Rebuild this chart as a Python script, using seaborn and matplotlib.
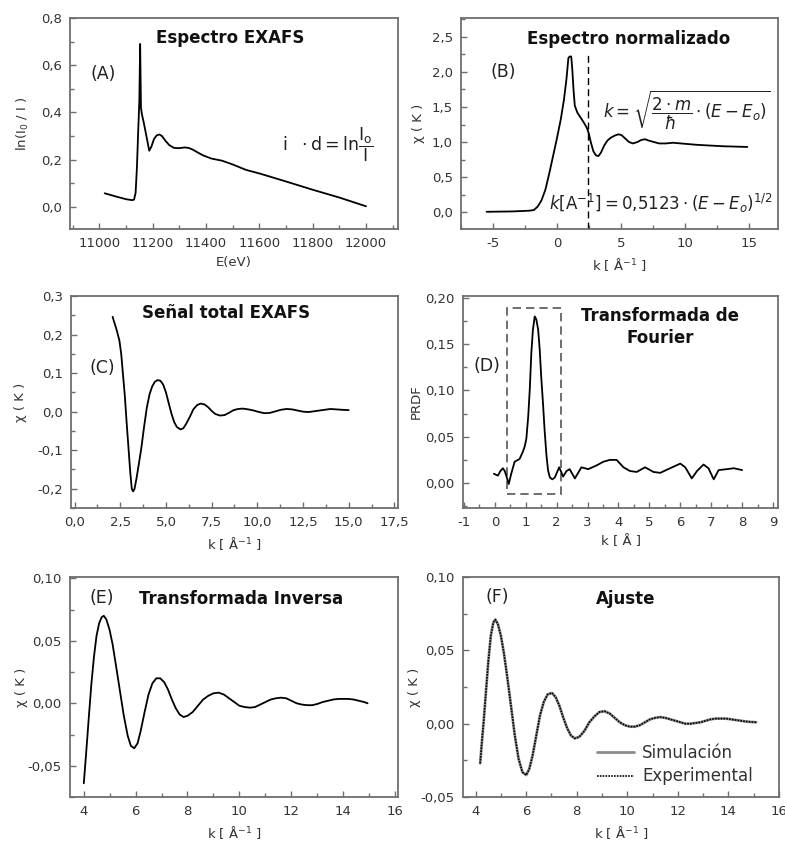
import numpy as np
import pandas as pd
import matplotlib
matplotlib.use("Agg")
import matplotlib.pyplot as plt
import seaborn as sns
from matplotlib.ticker import FuncFormatter, AutoMinorLocator, MultipleLocator
from matplotlib.patches import Rectangle

# (A) raw EXAFS spectrum
energy_ev = [11020, 11060, 11100, 11122, 11130, 11136, 11141, 11146, 11150, 11153, 11156,
             11160, 11166, 11173, 11180, 11187, 11195, 11205, 11215, 11225, 11235, 11248,
             11262, 11280, 11300, 11320, 11335, 11350, 11370, 11390, 11420, 11460, 11500,
             11550, 11600, 11700, 11800, 11900, 12000]
ln_i0_i = [0.058, 0.045, 0.033, 0.029, 0.031, 0.060, 0.17, 0.33, 0.45, 0.69, 0.42,
           0.39, 0.36, 0.32, 0.28, 0.238, 0.255, 0.288, 0.303, 0.307, 0.300, 0.280,
           0.262, 0.250, 0.249, 0.252, 0.250, 0.243, 0.230, 0.218, 0.205, 0.196, 0.180,
           0.157, 0.142, 0.108, 0.073, 0.040, 0.003]

# (B) normalised spectrum
k_norm = [-5.5, -3.5, -2.2, -1.8, -1.5, -1.2, -0.9, -0.6, -0.3, 0.0, 0.3, 0.55, 0.75,
          0.9, 1.0, 1.12, 1.2, 1.3, 1.4, 1.6, 1.85, 2.1, 2.35, 2.5, 2.65, 2.85, 3.05,
          3.25, 3.45, 3.7, 3.95, 4.2, 4.5, 4.8, 5.05, 5.35, 5.65, 5.95, 6.3, 6.6, 6.9,
          7.2, 7.6, 8.0, 8.5, 9.1, 10.0, 11.0, 12.0, 13.0, 14.9]
chi_norm = [0.005, 0.01, 0.02, 0.03, 0.08, 0.17, 0.32, 0.55, 0.80, 1.05, 1.32, 1.60, 1.90,
            2.20, 2.22, 2.22, 2.05, 1.75, 1.52, 1.42, 1.35, 1.28, 1.20, 1.12, 1.00, 0.87,
            0.81, 0.80, 0.85, 0.95, 1.02, 1.06, 1.09, 1.11, 1.10, 1.05, 1.00, 0.98, 1.00,
            1.03, 1.04, 1.02, 1.00, 0.98, 0.98, 0.99, 0.975, 0.96, 0.95, 0.94, 0.93]
edge_k = 2.45

# (C) total EXAFS signal
k_total = [2.08, 2.30, 2.45, 2.55, 2.65, 2.75, 2.85, 2.95, 3.05, 3.13, 3.20, 3.28, 3.38,
           3.50, 3.65, 3.80, 3.95, 4.10, 4.25, 4.40, 4.55, 4.70, 4.85, 5.00, 5.15, 5.30,
           5.45, 5.60, 5.80, 5.95, 6.10, 6.30, 6.50, 6.70, 6.90, 7.10, 7.30, 7.50, 7.70,
           7.95, 8.20, 8.45, 8.70, 8.95, 9.20, 9.50, 9.80, 10.10, 10.40, 10.70, 11.00,
           11.30, 11.60, 11.90, 12.20, 12.50, 12.80, 13.10, 13.40, 13.70, 14.00, 14.30,
           14.60, 15.00]
chi_total = [0.246, 0.212, 0.185, 0.150, 0.095, 0.040, -0.030, -0.095, -0.160, -0.200,
             -0.207, -0.200, -0.175, -0.140, -0.095, -0.040, 0.010, 0.045, 0.066, 0.078,
             0.082, 0.080, 0.070, 0.050, 0.022, -0.005, -0.027, -0.040, -0.046, -0.043,
             -0.032, -0.014, 0.006, 0.017, 0.021, 0.019, 0.012, 0.002, -0.006, -0.010,
             -0.009, -0.003, 0.004, 0.007, 0.008, 0.006, 0.003, -0.001, -0.004, -0.003,
             0.001, 0.005, 0.007, 0.006, 0.003, 0.000, -0.001, 0.001, 0.003, 0.005, 0.007,
             0.006, 0.005, 0.004]

# (D) Fourier transform
r_ft = [-0.03, 0.10, 0.18, 0.26, 0.32, 0.37, 0.45, 0.53, 0.64, 0.80, 0.91, 0.97, 1.02,
        1.08, 1.13, 1.18, 1.23, 1.29, 1.34, 1.40, 1.45, 1.50, 1.56, 1.61, 1.67, 1.72,
        1.78, 1.86, 1.94, 2.08, 2.21, 2.32, 2.42, 2.59, 2.80, 3.02, 3.29, 3.51, 3.72,
        3.94, 4.16, 4.37, 4.59, 4.86, 5.13, 5.35, 5.67, 6.00, 6.16, 6.37, 6.54, 6.75,
        6.91, 7.08, 7.24, 7.51, 7.73, 8.0]
prdf = [0.010, 0.008, 0.013, 0.016, 0.013, 0.008, -0.001, 0.010, 0.023, 0.026, 0.034,
        0.040, 0.048, 0.072, 0.101, 0.140, 0.165, 0.180, 0.177, 0.166, 0.145, 0.115,
        0.085, 0.057, 0.030, 0.014, 0.006, 0.004, 0.006, 0.017, 0.007, 0.013, 0.015,
        0.005, 0.017, 0.015, 0.019, 0.023, 0.025, 0.025, 0.017, 0.013, 0.012, 0.017,
        0.012, 0.011, 0.016, 0.021, 0.017, 0.005, 0.013, 0.020, 0.016, 0.004, 0.014,
        0.015, 0.016, 0.014]
window_r = [0.39, 2.15]
window_prdf = [-0.0116, 0.189]

# (E) inverse transform
k_inv = [4.01, 4.10, 4.20, 4.30, 4.40, 4.50, 4.60, 4.70, 4.78, 4.88, 5.00, 5.12, 5.25,
         5.40, 5.55, 5.70, 5.82, 5.95, 6.08, 6.20, 6.35, 6.50, 6.65, 6.80, 6.95, 7.10,
         7.25, 7.40, 7.55, 7.70, 7.85, 8.00, 8.20, 8.40, 8.60, 8.80, 9.00, 9.20, 9.40,
         9.60, 9.80, 10.0, 10.2, 10.4, 10.6, 10.8, 11.0, 11.2, 11.4, 11.6, 11.8, 12.0,
         12.2, 12.4, 12.6, 12.8, 13.0, 13.2, 13.4, 13.6, 13.8, 14.0, 14.2, 14.4, 14.6,
         14.8, 14.93]
chi_inv = [-0.064, -0.040, -0.012, 0.015, 0.037, 0.054, 0.064, 0.069, 0.070, 0.067,
           0.059, 0.047, 0.030, 0.010, -0.010, -0.026, -0.034, -0.036, -0.032, -0.022,
           -0.007, 0.007, 0.016, 0.020, 0.020, 0.017, 0.011, 0.003, -0.004, -0.009,
           -0.011, -0.010, -0.007, -0.002, 0.003, 0.006, 0.008, 0.0085, 0.007, 0.004,
           0.001, -0.002, -0.003, -0.0035, -0.003, -0.001, 0.001, 0.003, 0.004, 0.0045,
           0.004, 0.002, 0.000, -0.001, -0.0015, -0.0015, -0.0005, 0.001, 0.002, 0.003,
           0.0035, 0.0035, 0.0035, 0.003, 0.002, 0.001, 0.000]

# (F) fit
k_fit = [4.18, 4.25, 4.32, 4.40, 4.50, 4.60, 4.70, 4.78, 4.88, 5.00, 5.12, 5.25, 5.40,
         5.55, 5.70, 5.85, 6.00, 6.12, 6.25, 6.40, 6.55, 6.70, 6.85, 7.02, 7.17, 7.32,
         7.47, 7.62, 7.77, 7.92, 8.10, 8.30, 8.50, 8.70, 8.90, 9.10, 9.30, 9.50, 9.70,
         9.90, 10.1, 10.3, 10.5, 10.7, 10.9, 11.1, 11.3, 11.5, 11.7, 11.9, 12.1, 12.3,
         12.5, 12.7, 12.9, 13.1, 13.3, 13.5, 13.7, 13.9, 14.1, 14.3, 14.5, 14.7, 14.9,
         15.1]
chi_sim = [-0.027, -0.012, 0.002, 0.020, 0.042, 0.060, 0.069, 0.071, 0.068, 0.060,
           0.048, 0.032, 0.012, -0.008, -0.024, -0.033, -0.035, -0.031, -0.022, -0.008,
           0.006, 0.015, 0.020, 0.021, 0.018, 0.012, 0.004, -0.003, -0.008, -0.010,
           -0.009, -0.005, 0.001, 0.005, 0.008, 0.0085, 0.007, 0.004, 0.001, -0.001,
           -0.002, -0.002, -0.001, 0.001, 0.003, 0.004, 0.0045, 0.004, 0.003, 0.002,
           0.001, 0.000, 0.000, 0.0005, 0.001, 0.002, 0.003, 0.0035, 0.0035, 0.0035,
           0.003, 0.0025, 0.002, 0.0015, 0.0012, 0.001]
chi_exp = list(chi_sim)

sns.set_theme(style="ticks")
plt.rcParams['font.family'] = ['DejaVu Sans']
plt.rcParams['mathtext.fontset'] = 'dejavusans'
plt.rcParams['xtick.direction'] = 'in'
plt.rcParams['ytick.direction'] = 'in'

frame_col = '#6e6e6e'
text_col = '#333333'

fig = plt.figure(figsize=(7.85, 8.48), dpi=100)

positions = {
    'A': [0.0892, 0.7300, 0.4178, 0.2488],
    'B': [0.5873, 0.7300, 0.4038, 0.2488],
    'C': [0.0904, 0.4009, 0.4166, 0.2500],
    'D': [0.5898, 0.4009, 0.4013, 0.2500],
    'E': [0.0892, 0.0601, 0.4178, 0.2594],
    'F': [0.5898, 0.0601, 0.4025, 0.2594],
}


def comma_fmt(dec):
    def f(v, p):
        s = f"{v:.{dec}f}"
        if s.startswith('-') and float(s) == 0:
            s = s[1:]
        return s.replace('.', ',')
    return FuncFormatter(f)


def style(ax, xlim, ylim, xmaj, ymaj, xdec, ydec, xlabel, ylabel, ypad=7):
    ax.set_xlim(xlim)
    ax.set_ylim(ylim)
    ax.xaxis.set_major_locator(MultipleLocator(xmaj))
    ax.yaxis.set_major_locator(MultipleLocator(ymaj))
    ax.xaxis.set_minor_locator(AutoMinorLocator(2))
    ax.yaxis.set_minor_locator(AutoMinorLocator(2))
    ax.xaxis.set_major_formatter(comma_fmt(xdec))
    ax.yaxis.set_major_formatter(comma_fmt(ydec))
    ax.tick_params(which='major', direction='in', length=4, width=1, color=frame_col,
                   labelsize=9.5, labelcolor=text_col, pad=6)
    ax.tick_params(which='minor', direction='in', length=3, width=1, color=frame_col)
    for s in ax.spines.values():
        s.set_color(frame_col)
        s.set_linewidth(1.3)
    ax.set_xlabel(xlabel, fontsize=9.5, color=text_col, labelpad=4)
    ax.set_ylabel(ylabel, fontsize=9.5, color=text_col, labelpad=ypad)


line_kw = dict(color='black', linewidth=1.3, sort=False)
title_kw = dict(fontsize=12, fontweight='bold', color='#111111', ha='center', va='center')
lab_kw = dict(fontsize=12.5, color='#222222', ha='center', va='center')
klabel = r'k [ Å$^{\mathdefault{-1}}$ ]'

# A
ax = fig.add_axes(positions['A'])
sns.lineplot(x=energy_ev, y=ln_i0_i, ax=ax, **line_kw)
style(ax, (10890, 12120), (-0.093, 0.8), 200, 0.2, 0, 1, 'E(eV)', r'ln(I$_{\mathdefault{0}}$ / I )')
ax.text(0.488, 0.905, 'Espectro EXAFS', transform=ax.transAxes, **title_kw)
ax.text(0.10, 0.735, '(A)', transform=ax.transAxes, **lab_kw)
ax.text(0.645, 0.40, r'$\mathrm{i}\ \ \cdot \mathrm{d} = \mathrm{ln}\dfrac{\mathrm{I_o}}{\mathrm{I}}$',
        transform=ax.transAxes, fontsize=12.5, ha='left', va='center', color='#222222')

# B
ax = fig.add_axes(positions['B'])
sns.lineplot(x=k_norm, y=chi_norm, ax=ax, **line_kw)
style(ax, (-7.5, 17.3), (-0.24, 2.77), 5, 0.5, 0, 1, klabel, 'χ ( K )', ypad=5)
ax.axvline(edge_k, ymin=0, ymax=0.83, color='black', linewidth=1, dashes=(5, 3))
ax.text(0.53, 0.90, 'Espectro normalizado', transform=ax.transAxes, **title_kw)
ax.text(0.133, 0.744, '(B)', transform=ax.transAxes, **lab_kw)
ax.text(0.448, 0.564, r'$k=\sqrt{\dfrac{2\cdot m}{\hbar}\cdot(E-E_o)}$', transform=ax.transAxes,
        fontsize=12, ha='left', va='center', color='#222222')
ax.text(0.278, 0.123, r'$k\left[\mathrm{A}^{-1}\right]=0{,}5123\cdot(E-E_o)^{1/2}$',
        transform=ax.transAxes, fontsize=12, ha='left', va='center', color='#222222')

# C
ax = fig.add_axes(positions['C'])
sns.lineplot(x=k_total, y=chi_total, ax=ax, **line_kw)
style(ax, (-0.2, 17.7), (-0.25, 0.3), 2.5, 0.1, 1, 1, klabel, 'χ ( K )')
ax.text(0.474, 0.92, 'Señal total EXAFS', transform=ax.transAxes, **title_kw)
ax.text(0.095, 0.66, '(C)', transform=ax.transAxes, **lab_kw)

# D
ax = fig.add_axes(positions['D'])
sns.lineplot(x=r_ft, y=prdf, ax=ax, **line_kw)
style(ax, (-1.03, 9.16), (-0.027, 0.202), 1, 0.05, 0, 2, 'k [ Å ]', 'PRDF', ypad=2)
ax.add_patch(Rectangle((window_r[0], window_prdf[0]), window_r[1] - window_r[0],
                       window_prdf[1] - window_prdf[0], fill=False, edgecolor='#555555',
                       linewidth=1.2, linestyle=(0, (5, 3))))
ax.text(0.625, 0.855, 'Transformada de\nFourier', transform=ax.transAxes,
        linespacing=1.25, **title_kw)
ax.text(0.076, 0.67, '(D)', transform=ax.transAxes, **lab_kw)

# E
ax = fig.add_axes(positions['E'])
sns.lineplot(x=k_inv, y=chi_inv, ax=ax, **line_kw)
style(ax, (3.48, 16.1), (-0.075, 0.101), 2, 0.05, 0, 2, klabel, 'χ ( K )', ypad=0)
ax.text(0.52, 0.90, 'Transformada Inversa', transform=ax.transAxes, **title_kw)
ax.text(0.098, 0.905, '(E)', transform=ax.transAxes, **lab_kw)

# F
ax = fig.add_axes(positions['F'])
fit = pd.concat([
    pd.DataFrame({'k': k_fit, 'chi': chi_sim, 'serie': 'Simulación'}),
    pd.DataFrame({'k': k_fit, 'chi': chi_exp, 'serie': 'Experimental'}),
])
sns.lineplot(data=fit, x='k', y='chi', hue='serie', style='serie', ax=ax, sort=False,
             palette={'Simulación': '#8c8c8c', 'Experimental': 'black'},
             dashes={'Simulación': '', 'Experimental': (1, 0.7)},
             size='serie', sizes={'Simulación': 2.0, 'Experimental': 1.2})
style(ax, (3.5, 16.0), (-0.05, 0.10), 2, 0.05, 0, 2, klabel, 'χ ( K )', ypad=0)
ax.text(0.516, 0.90, 'Ajuste', transform=ax.transAxes, **title_kw)
ax.text(0.11, 0.91, '(F)', transform=ax.transAxes, **lab_kw)
ax.legend(loc='lower right', bbox_to_anchor=(0.955, 0.0), frameon=False, fontsize=12,
          handlelength=2.2, handletextpad=0.5, labelspacing=0.35, borderaxespad=0.3,
          labelcolor='#333333')

fig.savefig('out.png', dpi=100)
